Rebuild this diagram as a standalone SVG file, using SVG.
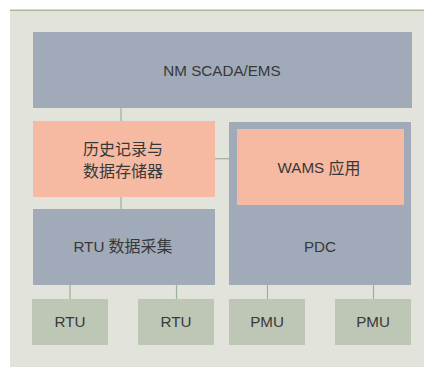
<svg xmlns="http://www.w3.org/2000/svg" width="424" height="367" viewBox="0 0 424 367">
<style>
.bg{fill:#e2e4dc}
.blue{fill:#a1aab9}
.salmon{fill:#f6b9a2}
.green{fill:#bec7b5}
.t{font-family:"Liberation Sans","Noto Sans CJK SC",sans-serif;font-size:15.2px;fill:#383838;text-anchor:middle;dominant-baseline:central}
.cn{font-size:16px}
.c{stroke:#9db09b;stroke-width:1.2;fill:none}
</style>
<rect class="bg" x="10" y="10" width="414" height="357"/>
<line x1="10" y1="10.2" x2="424" y2="10.2" stroke="#a9b8a0" stroke-width="1.5"/>
<g id="connectors">
<line class="c" x1="121" y1="108" x2="121" y2="121"/>
<line class="c" x1="121" y1="197" x2="121" y2="209"/>
<line class="c" x1="215" y1="158.7" x2="237" y2="158.7"/>
<line class="c" x1="70" y1="285" x2="70" y2="299"/>
<line class="c" x1="176.5" y1="285" x2="176.5" y2="299"/>
<line class="c" x1="267.5" y1="285" x2="267.5" y2="299"/>
<line class="c" x1="373.5" y1="285" x2="373.5" y2="299"/>
</g>
<g id="scada">
<rect class="blue" x="33" y="32" width="379" height="76"/>
<text class="t" x="222" y="70.5">NM SCADA/EMS</text>
</g>
<g id="history">
<rect class="salmon" x="33" y="121" width="182" height="76"/>
<text class="t cn" x="123" y="149.5">历史记录与</text>
<text class="t cn" x="123" y="171">数据存储器</text>
</g>
<g id="pdc">
<rect class="blue" x="229" y="122" width="182" height="163"/>
<text class="t" x="320" y="246">PDC</text>
</g>
<g id="wams">
<rect class="salmon" x="237" y="129" width="167" height="76"/>
<text class="t" x="319" y="167.5">WAMS <tspan class="cn">应用</tspan></text>
</g>
<g id="rtu-acq">
<rect class="blue" x="33" y="209" width="182" height="76"/>
<text class="t" x="123" y="246">RTU <tspan class="cn">数据采集</tspan></text>
</g>
<g id="rtu1">
<rect class="green" x="32" y="299" width="76" height="46"/>
<text class="t" x="70" y="321">RTU</text>
</g>
<g id="rtu2">
<rect class="green" x="138" y="299" width="76" height="46"/>
<text class="t" x="176" y="321">RTU</text>
</g>
<g id="pmu1">
<rect class="green" x="229" y="299" width="76" height="46"/>
<text class="t" x="267" y="321">PMU</text>
</g>
<g id="pmu2">
<rect class="green" x="335" y="299" width="76" height="46"/>
<text class="t" x="373" y="321">PMU</text>
</g>
</svg>
